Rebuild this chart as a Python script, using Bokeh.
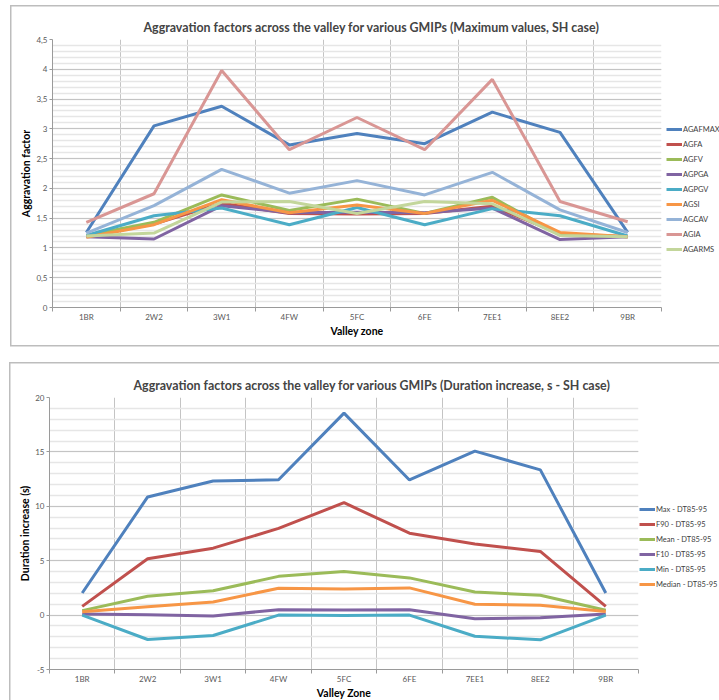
from bokeh.plotting import figure
from bokeh.models import (FixedTicker, CustomJSTickFormatter, Legend, LegendItem, Range1d)
from bokeh.embed import file_html
from bokeh.resources import INLINE

# ---------------- data ----------------
zones = ["1BR", "2W2", "3W1", "4FW", "5FC", "6FE", "7EE1", "8EE2", "9BR"]

# top chart: aggravation factors (maximum values, SH case)
top_names = ["AGAFMAX", "AGFA", "AGFV", "AGPGA", "AGPGV", "AGSI", "AGCAV", "AGIA", "AGARMS"]
agafmax = [1.26, 3.05, 3.38, 2.73, 2.92, 2.75, 3.28, 2.94, 1.26]
agfa = [1.19, 1.40, 1.75, 1.58, 1.57, 1.58, 1.70, 1.24, 1.19]
agfv = [1.21, 1.43, 1.89, 1.63, 1.82, 1.58, 1.85, 1.22, 1.19]
agpga = [1.19, 1.15, 1.71, 1.59, 1.60, 1.59, 1.67, 1.14, 1.19]
agpgv = [1.21, 1.54, 1.67, 1.39, 1.68, 1.39, 1.66, 1.54, 1.20]
agsi = [1.18, 1.39, 1.81, 1.59, 1.72, 1.58, 1.80, 1.26, 1.19]
agcav = [1.25, 1.71, 2.32, 1.92, 2.13, 1.89, 2.27, 1.64, 1.26]
agia = [1.43, 1.91, 3.98, 2.65, 3.19, 2.65, 3.83, 1.78, 1.44]
agarms = [1.20, 1.25, 1.77, 1.78, 1.58, 1.78, 1.74, 1.21, 1.19]
top_values = [agafmax, agfa, agfv, agpga, agpgv, agsi, agcav, agia, agarms]
top_colors = ["#4F81BD", "#C0504D", "#9BBB59", "#8064A2", "#4BACC6", "#F79646",
              "#95B3D7", "#D99694", "#C3D69B"]
top_yticks = [0, 0.5, 1, 1.5, 2, 2.5, 3, 3.5, 4, 4.5]

# bottom chart: duration increase (s)
bot_names = ["Max - DT85-95", "F90 - DT85-95", "Mean - DT85-95", "F10 - DT85-95",
             "Min - DT85-95", "Median - DT85-95"]
max_dt = [2.03, 10.86, 12.33, 12.44, 18.56, 12.42, 15.07, 13.35, 2.03]
f90_dt = [0.80, 5.18, 6.15, 7.97, 10.33, 7.53, 6.53, 5.85, 0.80]
mean_dt = [0.41, 1.74, 2.23, 3.56, 4.00, 3.42, 2.12, 1.83, 0.44]
f10_dt = [0.10, 0.03, -0.09, 0.50, 0.47, 0.50, -0.33, -0.24, 0.10]
min_dt = [0.00, -2.24, -1.88, 0.00, -0.03, 0.00, -1.94, -2.27, 0.00]
median_dt = [0.30, 0.77, 1.21, 2.47, 2.41, 2.50, 1.00, 0.91, 0.33]
bot_values = [max_dt, f90_dt, mean_dt, f10_dt, min_dt, median_dt]
bot_colors = ["#4F81BD", "#C0504D", "#9BBB59", "#8064A2", "#4BACC6", "#F79646"]
bot_yticks = [-5, 0, 5, 10, 15, 20]

FONT = "Lato"
BORDER = "#bdbdbd"
x_pos = [i + 0.5 for i in range(len(zones))]
bounds = list(range(len(zones) + 1))


def chart_border_css(left, top, bottom, width):
    g = "linear-gradient(%s,%s)" % (BORDER, BORDER)
    h = bottom - top
    return {"background": (
        f"{g} {left}px {top}px / 1.5px {h}px no-repeat, "
        f"{g} {left}px {top}px / {width - left}px 1.5px no-repeat, "
        f"{g} {left}px {bottom}px / {width - left}px 1.5px no-repeat, white")}


def make_chart(title, fw, fh, ylo, yhi, yticks, yminor, borders, names, values,
               colors, xlabel, ylabel, legend_loc, box, title_offset, title_standoff):
    p = figure(frame_width=fw, frame_height=fh, x_range=Range1d(0, len(zones)),
               y_range=Range1d(ylo, yhi), output_backend="svg", toolbar_location=None,
               min_border_left=borders[0], min_border_right=borders[1],
               min_border_top=borders[2], min_border_bottom=borders[3], title=title)
    p.styles = chart_border_css(*box)
    p.title.text_font = FONT
    p.title.text_font_size = "12.4px"
    p.title.text_font_style = "bold"
    p.title.align = "left"
    p.title.offset = title_offset
    p.title.standoff = title_standoff
    p.outline_line_color = None
    p.background_fill_color = "white"
    p.border_fill_color = None

    # x axis: labels at category centres, tick marks & grid at boundaries
    p.xaxis.ticker = FixedTicker(ticks=x_pos, minor_ticks=bounds)
    p.xaxis.formatter = CustomJSTickFormatter(args=dict(labels=zones),
                                              code="return labels[Math.round(tick - 0.5)];")
    p.xaxis.major_tick_line_color = None
    p.xaxis.major_tick_out = 0
    p.xaxis.major_tick_in = 0
    p.xaxis.minor_tick_out = 4
    p.xaxis.minor_tick_in = 0
    p.xaxis.minor_tick_line_color = "#9a9a9a"
    p.xaxis.axis_line_color = "#9a9a9a"
    p.xaxis.major_label_standoff = 0
    p.xaxis.axis_label = xlabel
    p.xaxis.axis_label_standoff = 0
    p.xgrid.ticker = FixedTicker(ticks=bounds)
    p.xgrid.grid_line_color = "#c4c4c4"

    p.yaxis.ticker = FixedTicker(ticks=yticks, minor_ticks=yminor)
    p.yaxis.formatter = CustomJSTickFormatter(
        code="return String(Math.round(tick*10)/10).replace('.', ',');")
    p.yaxis.major_tick_out = 3
    p.yaxis.major_tick_in = 0
    p.yaxis.minor_tick_out = 0
    p.yaxis.minor_tick_in = 0
    p.yaxis.major_tick_line_color = "#9a9a9a"
    p.yaxis.axis_line_color = "#9a9a9a"
    p.yaxis.major_label_standoff = 2
    p.yaxis.axis_label = ylabel
    p.yaxis.axis_label_standoff = 1
    p.ygrid.grid_line_color = "#c4c4c4"
    p.ygrid.minor_grid_line_color = "#e6e6e6"
    p.ygrid.minor_grid_line_width = 1.5

    for ax in (p.xaxis[0], p.yaxis[0]):
        ax.major_label_text_font = FONT
        ax.major_label_text_font_size = "8px"
        ax.major_label_text_color = "#595959"
        ax.axis_label_text_font = FONT
        ax.axis_label_text_font_size = "10.5px"
        ax.axis_label_text_font_style = "bold"
        ax.axis_label_text_color = "black"

    items = []
    for name, vals, col in zip(names, values, colors):
        r = p.line(x_pos, vals, line_color=col, line_width=3)
        items.append(LegendItem(label=name, renderers=[r]))
    leg = Legend(items=items, location=legend_loc, glyph_width=16, glyph_height=12,
                 label_height=12, spacing=3, padding=0, margin=0, label_standoff=1,
                 label_text_font=FONT, label_text_font_size="7.5px",
                 label_text_color="#404040", border_line_color=None,
                 background_fill_alpha=0)
    p.add_layout(leg, "right")
    return p


top_minor = [i / 10 for i in range(0, 46)]
bot_minor = list(range(-5, 21))

p1 = make_chart("Aggravation factors across the valley for various GMIPs (Maximum values, SH case)",
                609, 268, 0, 4.5, top_yticks, top_minor, (52, 58, 39, 46),
                top_names, top_values, top_colors, "Valley zone", "Aggravation factor",
                (5, 52), (10, 5, 345, 719), 91, 9)
p2 = make_chart("Aggravation factors across the valley for various GMIPs (Duration increase, s - SH case)",
                589, 272, -5, 20, bot_yticks, bot_minor, (49, 81, 44, 31),
                bot_names, bot_values, bot_colors, "Valley Zone", "Duration increase (s)",
                (1, 79), (9, 9, 400, 719), 84, 10)

open("out.html", "w").write(file_html([p1, p2], INLINE))
